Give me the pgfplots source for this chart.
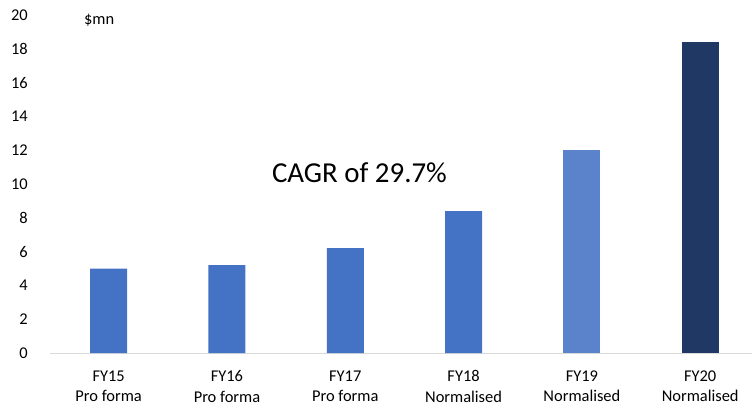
\documentclass[border=0pt]{standalone}
\usepackage{pgfplots}
\pgfplotsset{compat=1.18}
\usepackage{fontspec}
\setmainfont{Carlito}
\definecolor{barA}{RGB}{68,114,196}
\definecolor{barB}{RGB}{91,131,203}
\definecolor{barC}{RGB}{32,56,100}
\definecolor{axgray}{RGB}{217,217,217}
\begin{document}
\begin{tikzpicture}[x=1bp,y=1bp]
\useasboundingbox (0,0) rectangle (752,405);
\begin{axis}[
  at={(49.5bp,52bp)}, anchor=south west,
  scale only axis, width=702.5bp, height=338bp,
  xmin=-0.5, xmax=5.438, ymin=0, ymax=20,
  ytick={0,2,4,6,8,10,12,14,16,18,20},
  yticklabels={0,2,4,6,8,10,12,14,16,18,20},
  xtick={0,...,5},
  xticklabels={{FY15\\Pro forma},{FY16\\Pro forma},{FY17\\Pro forma},{FY18\\Normalised},{FY19\\Normalised},{FY20\\Normalised}},
  axis x line*=bottom,
  axis y line*=left,
  x axis line style={axgray, line width=1pt, -},
  y axis line style={draw=none, -},
  major tick length=0pt,
  yticklabel style={font=\fontsize{16.5}{19}\selectfont, anchor=east, inner sep=0pt, xshift=-21.5bp},
  xticklabel style={font=\fontsize{16.5}{20.5}\selectfont, align=center, anchor=north, inner sep=0pt, yshift=-17.5bp},
  ybar, bar width=37bp,
  clip=false,
]
\addplot[fill=barA, draw=none, bar shift=0pt] coordinates {(0,5.0) (1,5.2) (2,6.2) (3,8.4)};
\addplot[fill=barB, draw=none, bar shift=0pt] coordinates {(4,12.0)};
\addplot[fill=barC, draw=none, bar shift=0pt] coordinates {(5,18.4)};
\node[font=\fontsize{29}{32}\selectfont, inner sep=0pt] at (axis cs:2.12,10.65) {CAGR of 29.7\%};
\node[font=\fontsize{16.5}{19}\selectfont, inner sep=0pt] at (axis cs:-0.08,19.7) {\$mn};
\end{axis}
\end{tikzpicture}
\end{document}
